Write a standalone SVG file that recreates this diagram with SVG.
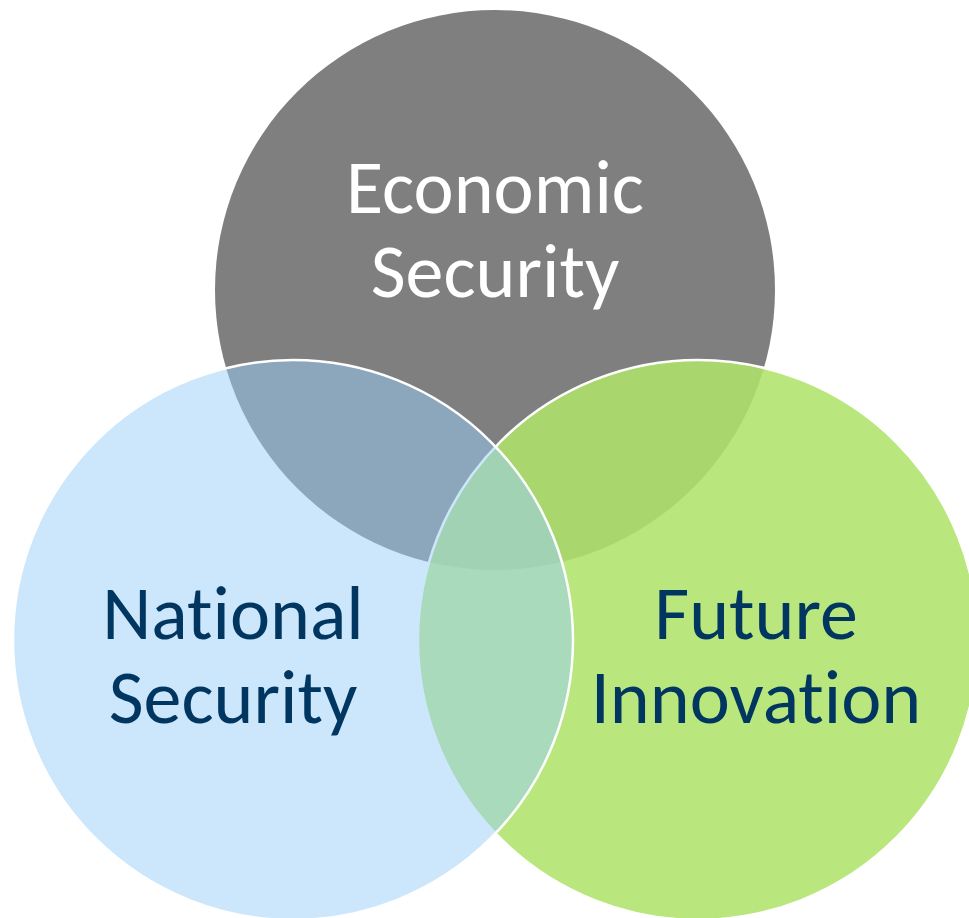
<svg xmlns="http://www.w3.org/2000/svg" width="969" height="918" viewBox="0 0 969 918">
  <style>
    .lbl { font-family: Carlito, Calibri, Lato, "Liberation Sans", sans-serif; font-size: 76px; text-anchor: middle; font-variant-ligatures: none; font-feature-settings: "liga" 0, "clig" 0; }
    .light { fill: #ffffff; }
    .dark { fill: #00365f; }
    .ring { stroke: #ffffff; stroke-width: 2.5; }
  </style>
  <rect width="969" height="918" fill="#ffffff"/>
  <g id="economic-security">
    <circle cx="495" cy="290" r="280" fill="#7f7f7f"/>
  </g>
  <g id="future-innovation">
    <circle class="ring" cx="698" cy="640" r="280" fill="#afe46b" fill-opacity="0.88"/>
  </g>
  <g id="national-security">
    <circle class="ring" cx="293" cy="640" r="280" fill="#99cdf9" fill-opacity="0.5"/>
  </g>
  <g id="connectors"></g>
  <g id="labels">
    <text class="lbl light" x="495" y="213"><tspan x="495" y="213">Economic</tspan><tspan x="495" y="297">Security</tspan></text>
    <text class="lbl dark" x="233" y="639"><tspan x="233" y="639">National</tspan><tspan x="233" y="723">Security</tspan></text>
    <text class="lbl dark" x="756" y="639"><tspan x="756" y="639">Future</tspan><tspan x="756" y="723">Innovation</tspan></text>
  </g>
</svg>
